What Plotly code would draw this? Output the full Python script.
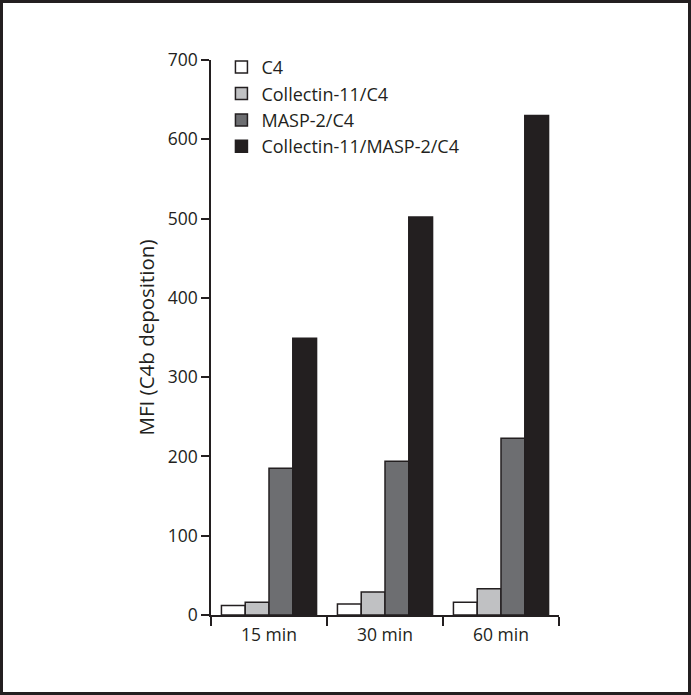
import plotly.graph_objects as go

categories = ["15 min", "30 min", "60 min"]
series_names = ["C4", "Collectin-11/C4", "MASP-2/C4", "Collectin-11/MASP-2/C4"]
c4 = [12, 14, 16]
collectin_c4 = [16, 29, 33]
masp2_c4 = [185, 194, 223]
collectin_masp2_c4 = [349, 502, 630]
y_ticks = [0, 100, 200, 300, 400, 500, 600, 700]

values = [c4, collectin_c4, masp2_c4, collectin_masp2_c4]
colors = ["#ffffff", "#c0c1c3", "#6d6e71", "#231f20"]

FONT = "Open Sans"
ink = "#231f20"

fig = go.Figure()
for name, vals, col in zip(series_names, values, colors):
    fig.add_trace(go.Bar(
        x=categories, y=vals, name=name,
        marker=dict(color=col, line=dict(color=ink, width=1.5)),
    ))

W, H = 691, 695
L, R, T, B = 211, 132, 60, 80
pw, ph = W - L - R, H - T - B

def px(x):
    return (x - L) / pw

def py(y):
    return (H - B - y) / ph

fig.add_shape(type="rect", xref="paper", yref="paper",
              x0=px(1.5), x1=px(689.5), y0=py(693.5), y1=py(1.5),
              line=dict(color=ink, width=3), fillcolor="rgba(0,0,0,0)")

fig.update_layout(
    width=W, height=H,
    margin=dict(l=L, r=R, t=T, b=B),
    paper_bgcolor="white", plot_bgcolor="white",
    barmode="group", bargap=0.18, bargroupgap=0,
    font=dict(family=FONT, size=17, color=ink),
    showlegend=True,
    legend=dict(x=0.03, y=1.02, xanchor="left", yanchor="top",
                bgcolor="rgba(0,0,0,0)", font=dict(size=18, family=FONT),
                itemwidth=30, tracegroupgap=0),
    xaxis=dict(showline=True, linecolor=ink, linewidth=1.5,
               ticks="outside", tickson="boundaries", ticklen=9,
               tickcolor=ink, tickwidth=1.5, showgrid=False,
               ticklabelstandoff=3,
               tickfont=dict(size=17.5, family=FONT)),
    yaxis=dict(range=[0, 700], tickvals=y_ticks, showline=True,
               linecolor=ink, linewidth=1.5, ticks="outside", ticklen=8,
               tickcolor=ink, tickwidth=1.5, showgrid=False, zeroline=False,
               tickfont=dict(size=17.5, family=FONT),
               title=dict(text="MFI (C4b deposition)", font=dict(size=20.5, family=FONT), standoff=8)),
)

fig.write_html("out.html", config={"displayModeBar": False},
               post_script="document.body.style.margin='0';")
